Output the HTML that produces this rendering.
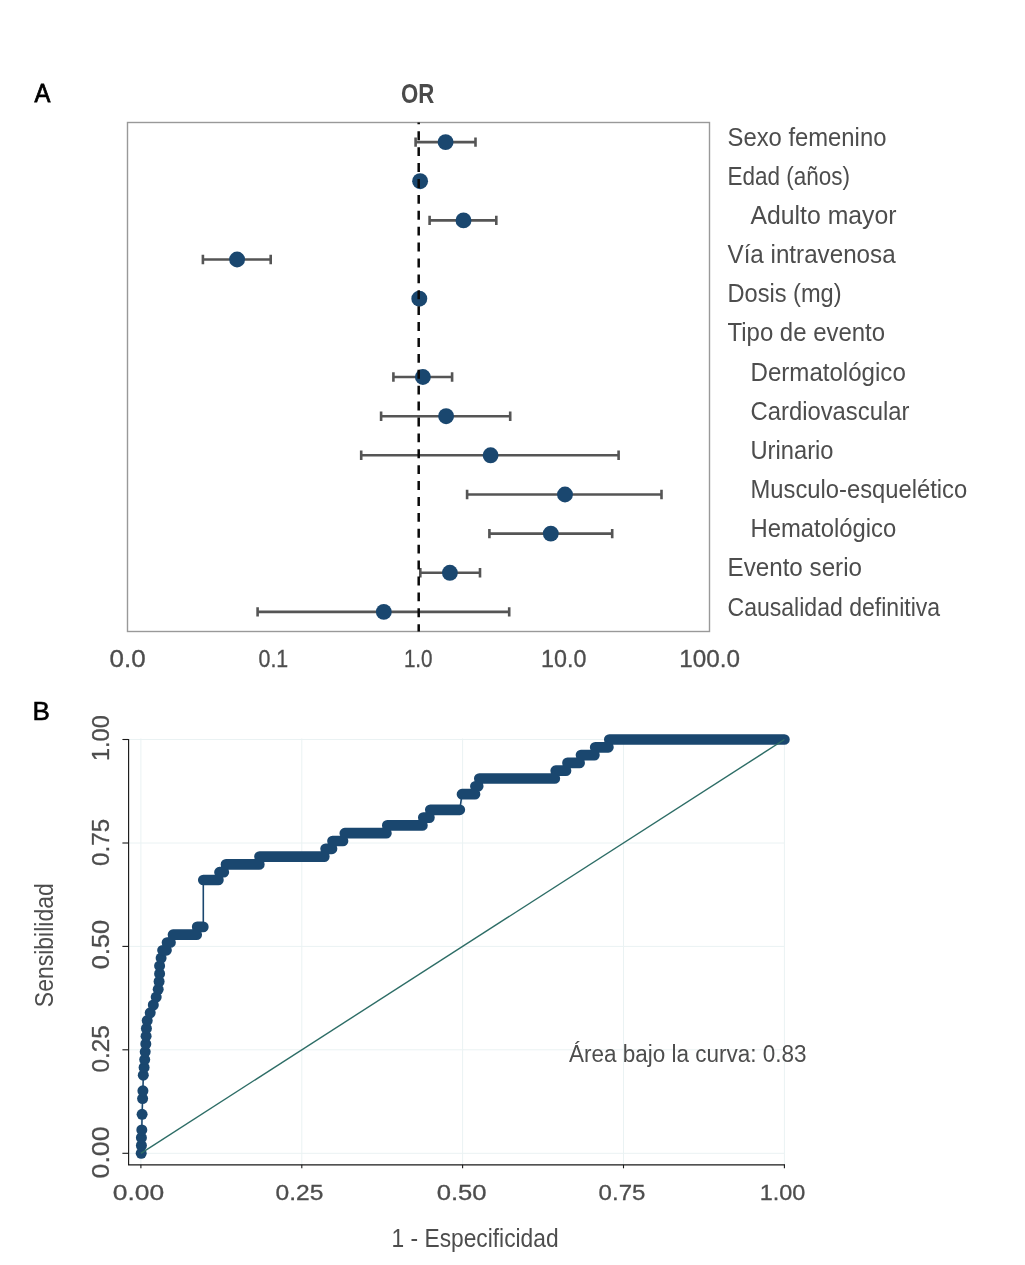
<!DOCTYPE html>
<html lang="es">
<head>
<meta charset="utf-8">
<title>Figura: OR y curva ROC</title>
<style>
html,body{margin:0;padding:0;background:#fff;}
body{width:1025px;height:1265px;overflow:hidden;}
svg{display:block;font-family:"Liberation Sans",sans-serif;}
</style>
</head>
<body>
<svg width="1025" height="1265" viewBox="0 0 1025 1265">
<defs><filter id="noop" x="0" y="0" width="1025" height="1265" filterUnits="userSpaceOnUse" color-interpolation-filters="sRGB"><feOffset dx="0" dy="0"/></filter></defs>
<rect width="1025" height="1265" fill="#ffffff"/>
<rect x="127.5" y="122.5" width="582.0" height="509.0" fill="none" stroke="#999999" stroke-width="1.4"/>
<path d="M415.6 142.1H475.5M415.6 137.4V146.8M475.5 137.4V146.8" stroke="#555555" stroke-width="2.6" fill="none"/>
<path d="M429.6 220.4H496.3M429.6 215.7V225.1M496.3 215.7V225.1" stroke="#555555" stroke-width="2.6" fill="none"/>
<path d="M202.9 259.5H270.7M202.9 254.8V264.2M270.7 254.8V264.2" stroke="#555555" stroke-width="2.6" fill="none"/>
<path d="M393.4 377.0H452.1M393.4 372.3V381.7M452.1 372.3V381.7" stroke="#555555" stroke-width="2.6" fill="none"/>
<path d="M381.1 416.2H510.2M381.1 411.5V420.9M510.2 411.5V420.9" stroke="#555555" stroke-width="2.6" fill="none"/>
<path d="M361.2 455.3H618.6M361.2 450.6V460.0M618.6 450.6V460.0" stroke="#555555" stroke-width="2.6" fill="none"/>
<path d="M467.1 494.5H661.5M467.1 489.8V499.2M661.5 489.8V499.2" stroke="#555555" stroke-width="2.6" fill="none"/>
<path d="M489.4 533.6H612.2M489.4 528.9V538.3M612.2 528.9V538.3" stroke="#555555" stroke-width="2.6" fill="none"/>
<path d="M420.3 572.8H480.0M420.3 568.1V577.5M480.0 568.1V577.5" stroke="#555555" stroke-width="2.6" fill="none"/>
<path d="M257.6 611.9H509.2M257.6 607.2V616.6M509.2 607.2V616.6" stroke="#555555" stroke-width="2.6" fill="none"/>
<circle cx="445.6" cy="142.1" r="7.95" fill="#1A476F"/>
<circle cx="420.1" cy="181.2" r="7.95" fill="#1A476F"/>
<circle cx="463.5" cy="220.4" r="7.95" fill="#1A476F"/>
<circle cx="237.1" cy="259.5" r="7.95" fill="#1A476F"/>
<circle cx="419.3" cy="298.7" r="7.95" fill="#1A476F"/>
<circle cx="422.9" cy="377.0" r="7.95" fill="#1A476F"/>
<circle cx="446.1" cy="416.2" r="7.95" fill="#1A476F"/>
<circle cx="490.6" cy="455.3" r="7.95" fill="#1A476F"/>
<circle cx="565.0" cy="494.5" r="7.95" fill="#1A476F"/>
<circle cx="550.8" cy="533.6" r="7.95" fill="#1A476F"/>
<circle cx="449.9" cy="572.8" r="7.95" fill="#1A476F"/>
<circle cx="383.8" cy="611.9" r="7.95" fill="#1A476F"/>
<line x1="418.7" y1="122.5" x2="418.7" y2="631.5" stroke="#0a0a0a" stroke-width="2.5" stroke-dasharray="8.9 7" stroke-dashoffset="7.1"/>
<line x1="140.9" y1="738.5" x2="140.9" y2="1164" stroke="#EAF2F3" stroke-width="1"/>
<line x1="129" y1="1153.3" x2="784.4" y2="1153.3" stroke="#EAF2F3" stroke-width="1"/>
<line x1="301.8" y1="738.5" x2="301.8" y2="1164" stroke="#EAF2F3" stroke-width="1"/>
<line x1="129" y1="1049.8" x2="784.4" y2="1049.8" stroke="#EAF2F3" stroke-width="1"/>
<line x1="462.6" y1="738.5" x2="462.6" y2="1164" stroke="#EAF2F3" stroke-width="1"/>
<line x1="129" y1="946.4" x2="784.4" y2="946.4" stroke="#EAF2F3" stroke-width="1"/>
<line x1="623.5" y1="738.5" x2="623.5" y2="1164" stroke="#EAF2F3" stroke-width="1"/>
<line x1="129" y1="843.0" x2="784.4" y2="843.0" stroke="#EAF2F3" stroke-width="1"/>
<line x1="784.4" y1="738.5" x2="784.4" y2="1164" stroke="#EAF2F3" stroke-width="1"/>
<line x1="129" y1="739.5" x2="784.4" y2="739.5" stroke="#EAF2F3" stroke-width="1"/>
<path d="M141.2 1153.3L141.4 1145.5L141.4 1137.7L141.8 1129.9L142.1 1114.3L142.6 1098.6L142.9 1090.8L143.3 1075.2L144.1 1067.4L144.7 1059.6L145.2 1051.8L145.8 1044.0L146.1 1036.2L146.4 1028.4L147.2 1020.6L150.2 1012.8L153.3 1005.0L156.2 997.1L158.2 989.3L159.1 981.5L159.6 973.7L159.6 965.9L161.1 958.1L162.5 950.3L166.5 950.3L167.0 942.5L170.5 942.5L173.0 934.7L196.7 934.7L197.2 926.9L203.3 926.9L203.3 880.0L218.4 880.0L219.5 872.2L223.8 872.2L226.0 864.4L259.3 864.4L259.5 856.6L324.3 856.6L325.6 848.8L332.0 848.8L332.5 841.0L343.0 841.0L344.8 833.2L386.4 833.2L387.3 825.4L422.4 825.4L423.3 817.6L429.4 817.6L430.3 809.8L459.8 809.8L462.0 794.2L475.0 794.2L475.4 786.3L478.2 786.3L479.3 778.5L554.8 778.5L555.7 770.7L566.0 770.7L567.5 762.9L579.6 762.9L581.0 755.1L594.4 755.1L595.2 747.3L608.4 747.3L609.3 739.5L784.4 739.5" fill="none" stroke="#1A476F" stroke-width="1.6" stroke-linejoin="round"/>
<circle cx="141.2" cy="1153.3" r="5.5" fill="#1A476F"/>
<circle cx="141.4" cy="1145.5" r="5.5" fill="#1A476F"/>
<circle cx="141.4" cy="1137.7" r="5.5" fill="#1A476F"/>
<circle cx="141.8" cy="1129.9" r="5.5" fill="#1A476F"/>
<circle cx="142.1" cy="1114.3" r="5.5" fill="#1A476F"/>
<circle cx="142.6" cy="1098.6" r="5.5" fill="#1A476F"/>
<circle cx="142.9" cy="1090.8" r="5.5" fill="#1A476F"/>
<circle cx="143.3" cy="1075.2" r="5.5" fill="#1A476F"/>
<circle cx="144.1" cy="1067.4" r="5.5" fill="#1A476F"/>
<circle cx="144.7" cy="1059.6" r="5.5" fill="#1A476F"/>
<circle cx="145.2" cy="1051.8" r="5.5" fill="#1A476F"/>
<circle cx="145.8" cy="1044.0" r="5.5" fill="#1A476F"/>
<circle cx="146.1" cy="1036.2" r="5.5" fill="#1A476F"/>
<circle cx="146.4" cy="1028.4" r="5.5" fill="#1A476F"/>
<circle cx="147.2" cy="1020.6" r="5.5" fill="#1A476F"/>
<circle cx="150.2" cy="1012.8" r="5.5" fill="#1A476F"/>
<circle cx="153.3" cy="1005.0" r="5.5" fill="#1A476F"/>
<circle cx="156.2" cy="997.1" r="5.5" fill="#1A476F"/>
<circle cx="158.2" cy="989.3" r="5.5" fill="#1A476F"/>
<circle cx="159.1" cy="981.5" r="5.5" fill="#1A476F"/>
<circle cx="159.6" cy="973.7" r="5.5" fill="#1A476F"/>
<circle cx="159.6" cy="965.9" r="5.5" fill="#1A476F"/>
<circle cx="161.1" cy="958.1" r="5.5" fill="#1A476F"/>
<path d="M162.5 950.3H166.51M167.0 942.5H170.51M173.0 934.7H196.71M197.2 926.9H203.31M203.3 880.0H218.41M219.5 872.2H223.81M226.0 864.4H259.31M259.5 856.6H324.31M325.6 848.8H332.01M332.5 841.0H343.01M344.8 833.2H386.41M387.3 825.4H422.41M423.3 817.6H429.41M430.3 809.8H459.81M462.0 794.2H475.01M475.4 786.3H478.21M479.3 778.5H554.81M555.7 770.7H566.01M567.5 762.9H579.61M581.0 755.1H594.41M595.2 747.3H608.41M609.3 739.5H784.41" fill="none" stroke="#1A476F" stroke-width="10.7" stroke-linecap="round"/>
<line x1="140.9" y1="1153.3" x2="784.4" y2="739.5" stroke="#2D6D66" stroke-width="1.4"/>
<path d="M128.6 739.1V1164.8H785" fill="none" stroke="#1a1a1a" stroke-width="1.15"/>
<line x1="122.4" y1="1153.3" x2="128.6" y2="1153.3" stroke="#1a1a1a" stroke-width="1.1"/>
<line x1="140.9" y1="1164.8" x2="140.9" y2="1168.3" stroke="#1a1a1a" stroke-width="1.1"/>
<line x1="122.4" y1="1049.8" x2="128.6" y2="1049.8" stroke="#1a1a1a" stroke-width="1.1"/>
<line x1="301.8" y1="1164.8" x2="301.8" y2="1168.3" stroke="#1a1a1a" stroke-width="1.1"/>
<line x1="122.4" y1="946.4" x2="128.6" y2="946.4" stroke="#1a1a1a" stroke-width="1.1"/>
<line x1="462.6" y1="1164.8" x2="462.6" y2="1168.3" stroke="#1a1a1a" stroke-width="1.1"/>
<line x1="122.4" y1="843.0" x2="128.6" y2="843.0" stroke="#1a1a1a" stroke-width="1.1"/>
<line x1="623.5" y1="1164.8" x2="623.5" y2="1168.3" stroke="#1a1a1a" stroke-width="1.1"/>
<line x1="122.4" y1="739.5" x2="128.6" y2="739.5" stroke="#1a1a1a" stroke-width="1.1"/>
<line x1="784.4" y1="1164.8" x2="784.4" y2="1168.3" stroke="#1a1a1a" stroke-width="1.1"/>
<g filter="url(#noop)">
<text x="727.5" y="145.7" font-size="25.0" text-anchor="start" fill="#4d4d4d" font-weight="normal" textLength="158.9" lengthAdjust="spacingAndGlyphs">Sexo femenino</text>
<text x="727.5" y="184.8" font-size="25.0" text-anchor="start" fill="#4d4d4d" font-weight="normal" textLength="122.6" lengthAdjust="spacingAndGlyphs">Edad (años)</text>
<text x="750.5" y="224.0" font-size="25.0" text-anchor="start" fill="#4d4d4d" font-weight="normal" textLength="146.0" lengthAdjust="spacingAndGlyphs">Adulto mayor</text>
<text x="727.5" y="263.1" font-size="25.0" text-anchor="start" fill="#4d4d4d" font-weight="normal" textLength="168.1" lengthAdjust="spacingAndGlyphs">Vía intravenosa</text>
<text x="727.5" y="302.3" font-size="25.0" text-anchor="start" fill="#4d4d4d" font-weight="normal" textLength="114.1" lengthAdjust="spacingAndGlyphs">Dosis (mg)</text>
<text x="727.5" y="341.4" font-size="25.0" text-anchor="start" fill="#4d4d4d" font-weight="normal" textLength="157.6" lengthAdjust="spacingAndGlyphs">Tipo de evento</text>
<text x="750.5" y="380.6" font-size="25.0" text-anchor="start" fill="#4d4d4d" font-weight="normal" textLength="155.3" lengthAdjust="spacingAndGlyphs">Dermatológico</text>
<text x="750.5" y="419.8" font-size="25.0" text-anchor="start" fill="#4d4d4d" font-weight="normal" textLength="158.9" lengthAdjust="spacingAndGlyphs">Cardiovascular</text>
<text x="750.5" y="458.9" font-size="25.0" text-anchor="start" fill="#4d4d4d" font-weight="normal" textLength="83.0" lengthAdjust="spacingAndGlyphs">Urinario</text>
<text x="750.5" y="498.1" font-size="25.0" text-anchor="start" fill="#4d4d4d" font-weight="normal" textLength="216.7" lengthAdjust="spacingAndGlyphs">Musculo-esquelético</text>
<text x="750.5" y="537.2" font-size="25.0" text-anchor="start" fill="#4d4d4d" font-weight="normal" textLength="145.7" lengthAdjust="spacingAndGlyphs">Hematológico</text>
<text x="727.5" y="576.4" font-size="25.0" text-anchor="start" fill="#4d4d4d" font-weight="normal" textLength="134.5" lengthAdjust="spacingAndGlyphs">Evento serio</text>
<text x="727.5" y="615.5" font-size="25.0" text-anchor="start" fill="#4d4d4d" font-weight="normal" textLength="212.6" lengthAdjust="spacingAndGlyphs">Causalidad definitiva</text>
<text x="109.5" y="667.3" font-size="23.5" text-anchor="start" fill="#4d4d4d" font-weight="normal" textLength="36.1" lengthAdjust="spacingAndGlyphs" stroke="#4d4d4d" stroke-width="0.3">0.0</text>
<text x="258.5" y="667.3" font-size="23.5" text-anchor="start" fill="#4d4d4d" font-weight="normal" textLength="29.7" lengthAdjust="spacingAndGlyphs" stroke="#4d4d4d" stroke-width="0.3">0.1</text>
<text x="403.9" y="667.3" font-size="23.5" text-anchor="start" fill="#4d4d4d" font-weight="normal" textLength="28.7" lengthAdjust="spacingAndGlyphs" stroke="#4d4d4d" stroke-width="0.3">1.0</text>
<text x="541.1" y="667.3" font-size="23.5" text-anchor="start" fill="#4d4d4d" font-weight="normal" textLength="45.3" lengthAdjust="spacingAndGlyphs" stroke="#4d4d4d" stroke-width="0.3">10.0</text>
<text x="679.2" y="667.3" font-size="23.5" text-anchor="start" fill="#4d4d4d" font-weight="normal" textLength="60.7" lengthAdjust="spacingAndGlyphs" stroke="#4d4d4d" stroke-width="0.3">100.0</text>
<text x="401.1" y="102.8" font-size="27.4" text-anchor="start" fill="#4a4a4a" font-weight="bold" textLength="33.3" lengthAdjust="spacingAndGlyphs">OR</text>
<text x="34.6" y="101.8" font-size="26.7" text-anchor="start" fill="#000" font-weight="normal" textLength="15.9" lengthAdjust="spacingAndGlyphs" stroke="#000" stroke-width="0.8">A</text>
<text x="32.5" y="720.4" font-size="25.6" text-anchor="start" fill="#000" font-weight="normal" textLength="17.4" lengthAdjust="spacingAndGlyphs" stroke="#000" stroke-width="0.55">B</text>
<text x="112.8" y="1200.4" font-size="22.5" text-anchor="start" fill="#4d4d4d" font-weight="normal" textLength="51.4" lengthAdjust="spacingAndGlyphs" stroke="#4d4d4d" stroke-width="0.3">0.00</text>
<text x="275.5" y="1200.4" font-size="22.5" text-anchor="start" fill="#4d4d4d" font-weight="normal" textLength="47.9" lengthAdjust="spacingAndGlyphs" stroke="#4d4d4d" stroke-width="0.3">0.25</text>
<text x="436.7" y="1200.4" font-size="22.5" text-anchor="start" fill="#4d4d4d" font-weight="normal" textLength="49.9" lengthAdjust="spacingAndGlyphs" stroke="#4d4d4d" stroke-width="0.3">0.50</text>
<text x="598.6" y="1200.4" font-size="22.5" text-anchor="start" fill="#4d4d4d" font-weight="normal" textLength="46.8" lengthAdjust="spacingAndGlyphs" stroke="#4d4d4d" stroke-width="0.3">0.75</text>
<text x="759.8" y="1200.4" font-size="22.5" text-anchor="start" fill="#4d4d4d" font-weight="normal" textLength="45.6" lengthAdjust="spacingAndGlyphs" stroke="#4d4d4d" stroke-width="0.3">1.00</text>
<text transform="translate(109.2 761.1) rotate(-90)" font-size="23.5" fill="#4d4d4d" stroke="#4d4d4d" stroke-width="0.3" textLength="45.9" lengthAdjust="spacingAndGlyphs">1.00</text>
<text transform="translate(109.2 865.9) rotate(-90)" font-size="23.5" fill="#4d4d4d" stroke="#4d4d4d" stroke-width="0.3" textLength="47.2" lengthAdjust="spacingAndGlyphs">0.75</text>
<text transform="translate(109.2 969.3) rotate(-90)" font-size="23.5" fill="#4d4d4d" stroke="#4d4d4d" stroke-width="0.3" textLength="49.5" lengthAdjust="spacingAndGlyphs">0.50</text>
<text transform="translate(109.2 1072.6) rotate(-90)" font-size="23.5" fill="#4d4d4d" stroke="#4d4d4d" stroke-width="0.3" textLength="47.3" lengthAdjust="spacingAndGlyphs">0.25</text>
<text transform="translate(109.2 1178.5) rotate(-90)" font-size="23.5" fill="#4d4d4d" stroke="#4d4d4d" stroke-width="0.3" textLength="52.1" lengthAdjust="spacingAndGlyphs">0.00</text>
<text transform="translate(52.6 1007.2) rotate(-90)" font-size="25" fill="#4d4d4d" textLength="124.0" lengthAdjust="spacingAndGlyphs">Sensibilidad</text>
<text x="391.6" y="1246.6" font-size="25" text-anchor="start" fill="#4d4d4d" font-weight="normal" textLength="167.0" lengthAdjust="spacingAndGlyphs">1 - Especificidad</text>
<text x="569.1" y="1061.7" font-size="23" text-anchor="start" fill="#4d4d4d" font-weight="normal" textLength="237.4" lengthAdjust="spacingAndGlyphs">Área bajo la curva: 0.83</text>
</g>
</svg>
</body>
</html>
